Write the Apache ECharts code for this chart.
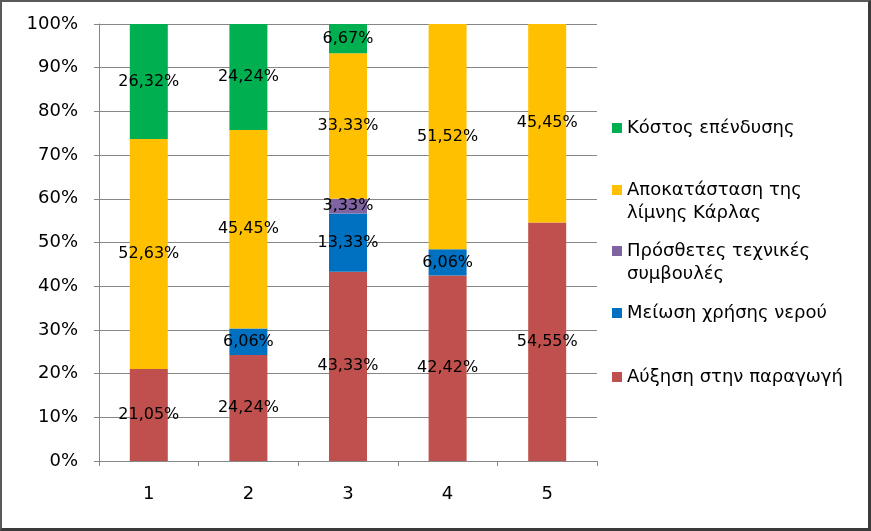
<!DOCTYPE html>
<html>
<head>
<meta charset="utf-8">
<script src="https://cdn.jsdelivr.net/npm/echarts@6/dist/echarts.min.js"></script>
<style>
html,body{margin:0;padding:0;background:#fff;}
#wrap{width:871px;height:531px;box-sizing:border-box;border-top:2px solid #5a5a5a;border-left:2px solid #5a5a5a;border-right:3px solid #3a3a3a;border-bottom:3px solid #3a3a3a;position:relative;}
#c{position:absolute;left:-2px;top:-2px;width:871px;height:531px;}
</style>
</head>
<body>
<div id="wrap"><div id="c"></div></div>
<script>
const categories = ['1','2','3','4','5'];
const seriesNames = ['Αύξηση στην παραγωγή','Μείωση χρήσης νερού','Πρόσθετες τεχνικές συμβουλές','Αποκατάσταση της λίμνης Κάρλας','Κόστος επένδυσης'];
const auxisi = [21.05, 24.24, 43.33, 42.42, 54.55];
const meiosi = [0, 6.06, 13.33, 6.06, 0];
const prosthetes = [0, 0, 3.33, 0, 0];
const apokatastasi = [52.63, 45.45, 33.33, 51.52, 45.45];
const kostos = [26.32, 24.24, 6.67, 0, 0];
const yTicks = [0,10,20,30,40,50,60,70,80,90,100];
const colors = ['#C0504D','#0070C0','#8064A2','#FFC000','#00B050'];
const legendWrap = {
  'Αποκατάσταση της λίμνης Κάρλας': ['Αποκατάσταση της', 'λίμνης Κάρλας'],
  'Πρόσθετες τεχνικές συμβουλές': ['Πρόσθετες τεχνικές', 'συμβουλές']
};
const values = [auxisi, meiosi, prosthetes, apokatastasi, kostos];
const legendCenters = [377, 313, 251, 190, 128];
const LH = 23;

const chart = echarts.init(document.getElementById('c'));
const font = 'DejaVu Sans';
const series = seriesNames.map((name, i) => ({
  name: name,
  type: 'bar',
  stack: 'total',
  barWidth: 38,
  itemStyle: { color: colors[i] },
  label: {
    show: true,
    position: 'inside',
    color: '#000',
    fontFamily: font,
    fontSize: 16,
    formatter: p => p.value > 0 ? p.value.toFixed(2).replace('.', ',') + '%' : ''
  },
  data: values[i]
}));
const legends = seriesNames.map((name, i) => {
  const two = !!legendWrap[name];
  const h = two ? 3 * LH : LH;
  return {
    data: [name],
    left: 612,
    top: legendCenters[i] - h / 2,
    padding: 0,
    orient: 'vertical',
    itemWidth: 10,
    itemHeight: 10,
    itemGap: 0,
    icon: 'rect',
    selectedMode: false,
    formatter: n => legendWrap[n] ? '\n' + legendWrap[n].join('\n') : n,
    textStyle: {
      fontFamily: font,
      fontSize: 18,
      color: '#000',
      lineHeight: LH
    }
  };
});
chart.setOption({
  animation: false,
  color: colors,
  grid: { left: 99, right: 274, top: 24, bottom: 70 },
  legend: legends,
  xAxis: {
    type: 'category',
    data: categories,
    axisLine: { lineStyle: { color: '#868686' } },
    axisTick: { show: true, length: 5, lineStyle: { color: '#868686' } },
    axisLabel: { fontFamily: font, fontSize: 18, color: '#000', margin: 24 }
  },
  yAxis: {
    type: 'value',
    min: 0,
    max: 100,
    interval: 10,
    axisLine: { show: true, lineStyle: { color: '#868686' } },
    axisTick: { show: true, length: 5, lineStyle: { color: '#868686' } },
    splitLine: { lineStyle: { color: '#868686' } },
    axisLabel: { fontFamily: font, fontSize: 18, color: '#000', margin: 21,
      formatter: v => yTicks.includes(v) ? v + '%' : '' }
  },
  series: series
});
</script>
</body>
</html>
